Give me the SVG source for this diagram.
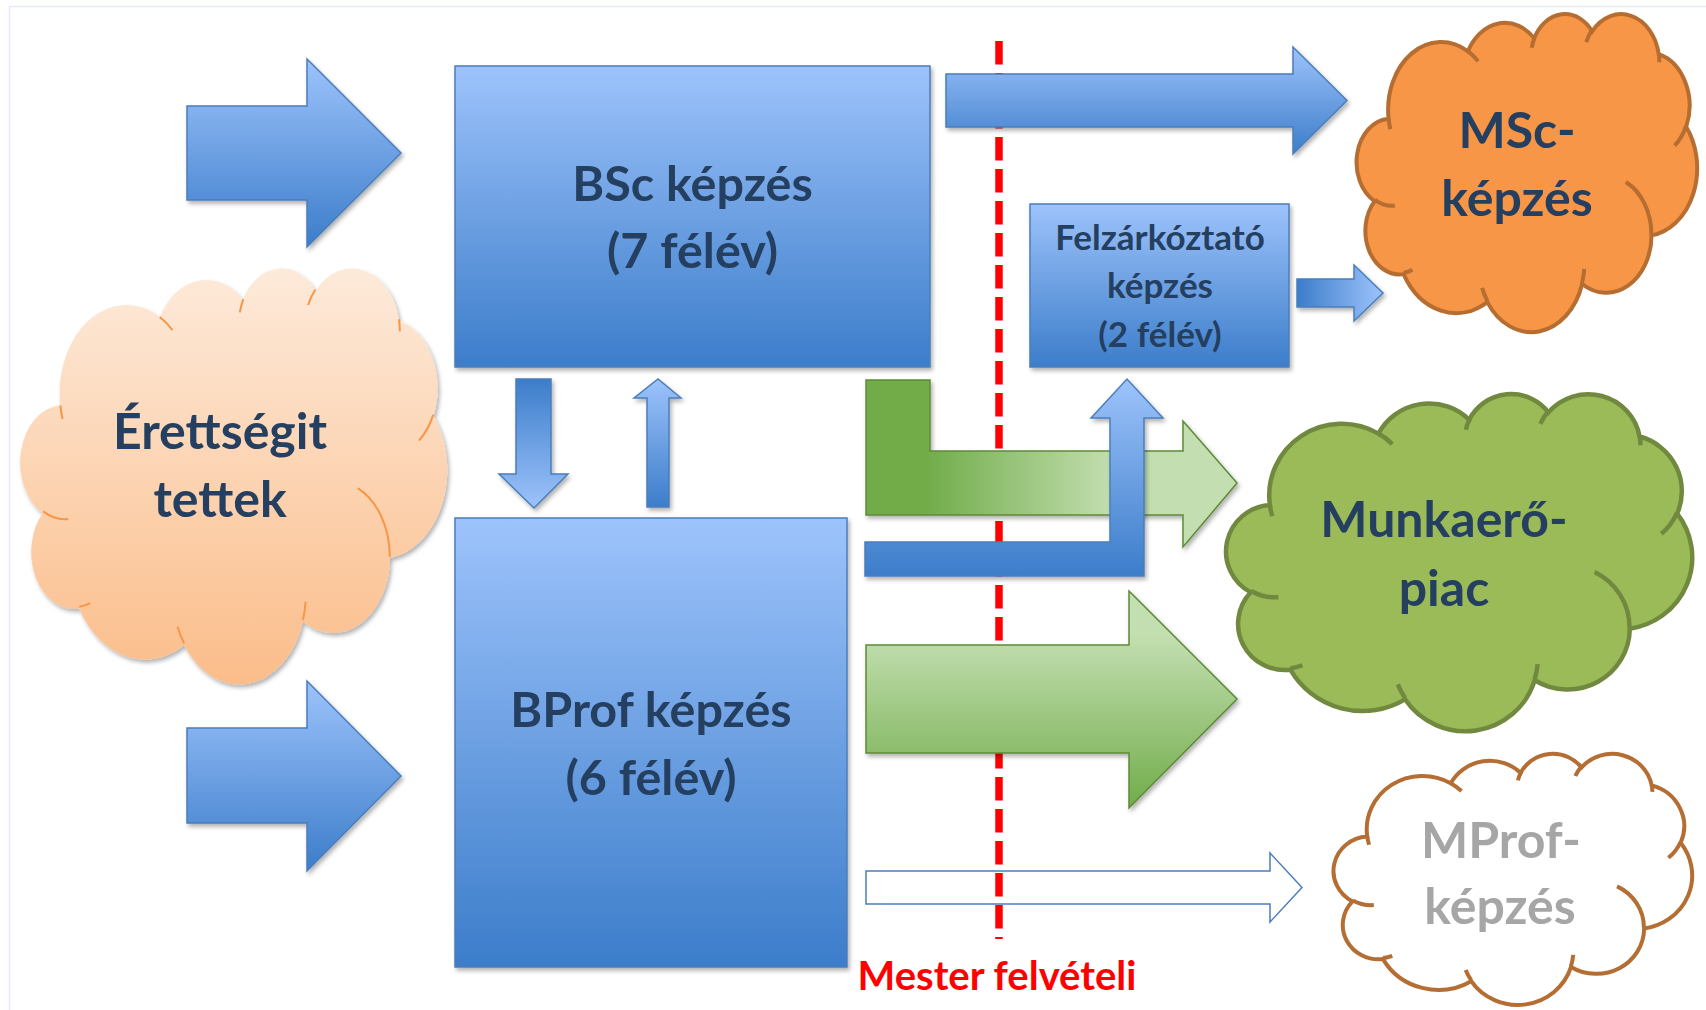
<svg xmlns="http://www.w3.org/2000/svg" width="1706" height="1010" viewBox="0 0 1706 1010">
<defs>
<style>
.t{font-family:Lato,"Liberation Sans",sans-serif;font-weight:bold;fill:#243F60;text-anchor:middle}
.big{font-size:50px}
.box{font-size:48.5px}
.mid{font-size:35px}
.blue{stroke:#4A7EBB;stroke-width:1.5}
.green{stroke:#5E8A36;stroke-width:1.5}
</style>
<linearGradient id="gBlue" x1="0" y1="0" x2="0" y2="1"><stop offset="0" stop-color="#9DC3FB"/><stop offset="1" stop-color="#3C7DCA"/></linearGradient>
<linearGradient id="gBlueUp" x1="0" y1="1" x2="0" y2="0"><stop offset="0" stop-color="#9DC3FB"/><stop offset="1" stop-color="#3C7DCA"/></linearGradient>
<linearGradient id="gBlueH" x1="0" y1="0" x2="1" y2="0"><stop offset="0" stop-color="#3C7DCA"/><stop offset="1" stop-color="#9DC3FB"/></linearGradient>
<linearGradient id="gGreenL" gradientUnits="userSpaceOnUse" x1="925" y1="0" x2="1115" y2="0"><stop offset="0" stop-color="#71AC4A"/><stop offset="1" stop-color="#C3DFB1"/></linearGradient>
<linearGradient id="gGreenV" x1="0" y1="0" x2="0" y2="1"><stop offset="0.2" stop-color="#C3DFB1"/><stop offset="1" stop-color="#71AC4A"/></linearGradient>
<linearGradient id="gPeach" x1="0" y1="0" x2="0" y2="1"><stop offset="0" stop-color="#FDEADA"/><stop offset="1" stop-color="#FBBD8A"/></linearGradient>
<filter id="sh" x="-10%" y="-10%" width="130%" height="130%"><feDropShadow dx="2" dy="3" stdDeviation="2" flood-color="#000" flood-opacity="0.3"/></filter>
<path id="cloudOut" d="M3900 14370A6753 9190 0 0 1 14006 5203A5333 7267 0 0 1 22460 3435A4365 5945 0 0 1 29838 2484A4857 6595 0 0 1 38322 5581A5333 7273 0 0 1 41822 15465A6775 9220 0 0 1 37408 30208A5785 7867 0 0 1 28559 36818A6752 9215 0 0 1 16483 39268A7720 10543 0 0 1 5808 35473A4360 5918 0 0 1 2117 25551A4345 5945 0 0 1 3900 14370Z"/>
</defs>
<rect x="0" y="0" width="1706" height="1010" fill="#FFFFFF"/>
<path d="M9.5 1010V6.5H1706" fill="none" stroke="#E3EAF5" stroke-width="1.5"/>

<g id="n-erettsegit">
<g filter="url(#sh)">
<g transform="translate(22 267) scale(0.009838 0.0096296)">
<use href="#cloudOut" fill="url(#gPeach)" stroke="#F79646" stroke-width="2" vector-effect="non-scaling-stroke"/>
</g>
</g>
<g transform="translate(22 267) scale(0.009838 0.0096296)">
<path d="M4693 26177A4345 5945 0 0 1 2160 25380M6928 34899A4360 5918 0 0 1 5819 35281M16478 39090A6752 9215 0 0 1 15811 37351M28827 34751A6752 9215 0 0 1 28560 36660M34129 22954A5785 7867 0 0 1 37381 30090M41798 15354A5333 7273 0 0 1 40349 18031M38324 5426A4857 6595 0 0 1 38400 6690M29078 3952A4857 6595 0 0 1 29821 2338M22141 4720A4365 5945 0 0 1 22500 3330M14000 5192A6753 9190 0 0 1 15302 6544M4127 15789A6753 9190 0 0 1 3900 14370" fill="none" stroke="#F79646" stroke-width="2" vector-effect="non-scaling-stroke"/>
</g>
<text class="t big" x="220" y="449">Érettségit</text>
<text class="t big" x="220" y="517">tettek</text>
</g>

<g id="n-msc">
<g transform="translate(1358 13) scale(0.0078472 0.0073611)">
<path d="M3900 14370A6753 9190 0 0 1 14006 5203A5333 7267 0 0 1 22460 3435A4365 5945 0 0 1 29838 2484A4857 6595 0 0 1 38322 5581A5333 7273 0 0 1 41822 15465A6775 9220 0 0 1 37408 30208A5785 7867 0 0 1 28559 36818A6752 9215 0 0 1 16483 39268A7720 10543 0 0 1 5808 35473A4360 5918 0 0 1 2117 25551A4345 5945 0 0 1 3900 14370Z" fill="#F79646" stroke="#B66D31" stroke-width="4" vector-effect="non-scaling-stroke"/>
<path d="M4693 26177A4345 5945 0 0 1 2160 25380M6928 34899A4360 5918 0 0 1 5819 35281M16478 39090A6752 9215 0 0 1 15811 37351M28827 34751A6752 9215 0 0 1 28560 36660M34129 22954A5785 7867 0 0 1 37381 30090M41798 15354A5333 7273 0 0 1 40349 18031M38324 5426A4857 6595 0 0 1 38400 6690M29078 3952A4857 6595 0 0 1 29821 2338M22141 4720A4365 5945 0 0 1 22500 3330M14000 5192A6753 9190 0 0 1 15302 6544M4127 15789A6753 9190 0 0 1 3900 14370" fill="none" stroke="#B66D31" stroke-width="4" vector-effect="non-scaling-stroke"/>
</g>
<text class="t big" x="1517" y="148">MSc-</text>
<text class="t big" x="1517" y="216">képzés</text>
</g>

<g id="n-munka">
<g transform="translate(1228 393) scale(0.0107407 0.0078009)">
<path d="M3900 14370A6753 9190 0 0 1 14006 5203A5333 7267 0 0 1 22460 3435A4365 5945 0 0 1 29838 2484A4857 6595 0 0 1 38322 5581A5333 7273 0 0 1 41822 15465A6775 9220 0 0 1 37408 30208A5785 7867 0 0 1 28559 36818A6752 9215 0 0 1 16483 39268A7720 10543 0 0 1 5808 35473A4360 5918 0 0 1 2117 25551A4345 5945 0 0 1 3900 14370Z" fill="#9BBB59" stroke="#71893F" stroke-width="4.5" vector-effect="non-scaling-stroke"/>
<path d="M4693 26177A4345 5945 0 0 1 2160 25380M6928 34899A4360 5918 0 0 1 5819 35281M16478 39090A6752 9215 0 0 1 15811 37351M28827 34751A6752 9215 0 0 1 28560 36660M34129 22954A5785 7867 0 0 1 37381 30090M41798 15354A5333 7273 0 0 1 40349 18031M38324 5426A4857 6595 0 0 1 38400 6690M29078 3952A4857 6595 0 0 1 29821 2338M22141 4720A4365 5945 0 0 1 22500 3330M14000 5192A6753 9190 0 0 1 15302 6544M4127 15789A6753 9190 0 0 1 3900 14370" fill="none" stroke="#71893F" stroke-width="4.5" vector-effect="non-scaling-stroke"/>
</g>
<text class="t big" x="1444" y="537">Munkaerő-</text>
<text class="t big" x="1444" y="606">piac</text>
</g>

<g id="n-mprof">
<g transform="translate(1335 753) scale(0.0082639 0.0058102)">
<path d="M3900 14370A6753 9190 0 0 1 14006 5203A5333 7267 0 0 1 22460 3435A4365 5945 0 0 1 29838 2484A4857 6595 0 0 1 38322 5581A5333 7273 0 0 1 41822 15465A6775 9220 0 0 1 37408 30208A5785 7867 0 0 1 28559 36818A6752 9215 0 0 1 16483 39268A7720 10543 0 0 1 5808 35473A4360 5918 0 0 1 2117 25551A4345 5945 0 0 1 3900 14370Z" fill="#FFFFFF" stroke="#B46D33" stroke-width="4" vector-effect="non-scaling-stroke"/>
<path d="M4693 26177A4345 5945 0 0 1 2160 25380M6928 34899A4360 5918 0 0 1 5819 35281M16478 39090A6752 9215 0 0 1 15811 37351M28827 34751A6752 9215 0 0 1 28560 36660M34129 22954A5785 7867 0 0 1 37381 30090M41798 15354A5333 7273 0 0 1 40349 18031M38324 5426A4857 6595 0 0 1 38400 6690M29078 3952A4857 6595 0 0 1 29821 2338M22141 4720A4365 5945 0 0 1 22500 3330M14000 5192A6753 9190 0 0 1 15302 6544M4127 15789A6753 9190 0 0 1 3900 14370" fill="none" stroke="#B46D33" stroke-width="4" vector-effect="non-scaling-stroke"/>
</g>
<text class="t big" x="1501" y="858" style="fill:#A6A6A6">MProf-</text>
<text class="t big" x="1500" y="924" style="fill:#A6A6A6">képzés</text>
</g>

<g id="n-bsc">
<rect x="455" y="66" width="475" height="301" fill="url(#gBlue)" class="blue" filter="url(#sh)"/>
<text class="t box" x="692.5" y="201">BSc képzés</text>
<text class="t box" x="692.5" y="268">(7 félév)</text>
</g>

<g id="n-bprof">
<rect x="455" y="518" width="392" height="449" fill="url(#gBlue)" class="blue" filter="url(#sh)"/>
<text class="t box" x="651" y="727">BProf képzés</text>
<text class="t box" x="651" y="795">(6 félév)</text>
</g>

<g id="n-felz">
<rect x="1030" y="204" width="259" height="163" fill="url(#gBlue)" class="blue" filter="url(#sh)"/>
<text class="t mid" x="1160" y="250">Felzárkóztató</text>
<text class="t mid" x="1160" y="298">képzés</text>
<text class="t mid" x="1160" y="347">(2 félév)</text>
</g>

<g id="mester">
<path d="M866 871H1270V853L1302 887.5L1270 922V904H866Z" fill="#FFFFFF" class="blue"/>
<line x1="999" y1="41" x2="999" y2="939" stroke="#FF0000" stroke-width="7.5" stroke-dasharray="23.5 8.5"/>
<text x="997" y="990" style="font-family:Lato,'Liberation Sans',sans-serif;font-weight:bold;font-size:40px;fill:#FF0000;text-anchor:middle">Mester felvételi</text>
</g>

<g id="connectors">
<path d="M187 106H307V59L401 153L307 247V200H187Z" fill="url(#gBlue)" class="blue" filter="url(#sh)"/>
<path d="M187 728H307V681L401 776L307 871V823H187Z" fill="url(#gBlue)" class="blue" filter="url(#sh)"/>
<path d="M946 74H1293V47L1347 100.5L1293 154V127H946Z" fill="url(#gBlue)" class="blue" filter="url(#sh)"/>
<path d="M1297 279H1354V265L1383 293L1354 321V307H1297Z" fill="url(#gBlueH)" class="blue" filter="url(#sh)"/>
<path d="M516 379H551V474H568L534 508L499 474H516Z" fill="url(#gBlueUp)" class="blue" filter="url(#sh)"/>
<path d="M647 507V398H634L658 379L681 398H669V507Z" fill="url(#gBlue)" class="blue" filter="url(#sh)"/>
<path d="M866 380H930V451H1183V421L1237 483L1183 547V515H866Z" fill="url(#gGreenL)" class="green" filter="url(#sh)"/>
<path d="M865 542H1110V418H1091L1127 379L1163 418H1144V576H865Z" fill="url(#gBlue)" class="blue" filter="url(#sh)"/>
<path d="M866 645H1129V591L1237 699L1129 808V753H866Z" fill="url(#gGreenV)" class="green" filter="url(#sh)"/>
</g>
</svg>
